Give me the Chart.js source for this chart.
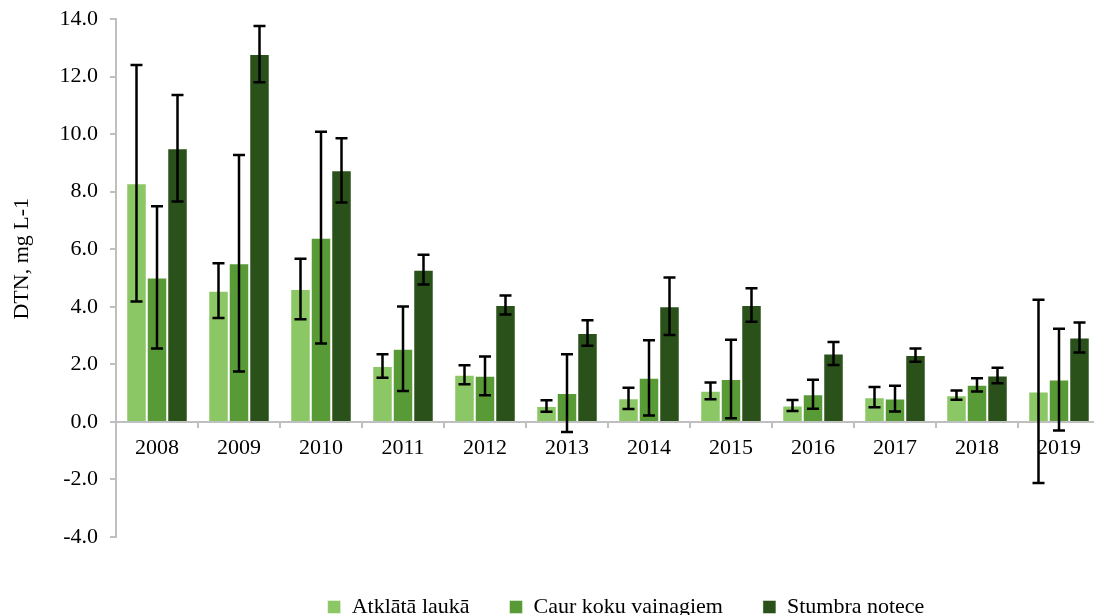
<!DOCTYPE html>
<html>
<head>
<meta charset="utf-8">
<script src="https://cdn.jsdelivr.net/npm/chart.js@4.4.0/dist/chart.umd.min.js"></script>
<style>
html, body { margin: 0; padding: 0; overflow: hidden; background: #fff; }
canvas { display: block; }
</style>
</head>
<body>
<canvas id="dtnChart" width="1100" height="615"></canvas>
<script>
var years = ['2008', '2009', '2010', '2011', '2012', '2013', '2014', '2015', '2016', '2017', '2018', '2019'];

var atklata    = [8.29, 4.56, 4.62, 1.94, 1.64, 0.55, 0.82, 1.08, 0.57, 0.86, 0.93, 1.06];
var atklataErr = [4.11, 0.95, 1.05, 0.41, 0.33, 0.20, 0.37, 0.29, 0.19, 0.35, 0.16, 3.18];

var caur       = [5.02, 5.51, 6.40, 2.54, 1.60, 1.00, 1.53, 1.49, 0.96, 0.81, 1.29, 1.47];
var caurErr    = [2.47, 3.76, 3.68, 1.47, 0.67, 1.35, 1.31, 1.36, 0.50, 0.45, 0.23, 1.77];

var stumbra    = [9.51, 12.78, 8.74, 5.29, 4.06, 3.09, 4.02, 4.06, 2.38, 2.32, 1.61, 2.93];
var stumbraErr = [1.85, 0.98, 1.12, 0.52, 0.33, 0.44, 1.00, 0.58, 0.40, 0.23, 0.27, 0.52];

var yTicks = [-4, -2, 0, 2, 4, 6, 8, 10, 12, 14];

var axisGrey = '#bfbfbf';
var serif = '"Liberation Serif", "Times New Roman", Tinos, serif';

// error bars drawn on top of the bars, through the y scale
var errorBars = {
    id: 'errorBars',
    afterDatasetsDraw: function (chart) {
        var ctx = chart.ctx;
        var yScale = chart.scales.y;
        ctx.save();
        ctx.strokeStyle = '#000';
        ctx.lineWidth = 2.5;
        chart.data.datasets.forEach(function (ds, i) {
            var meta = chart.getDatasetMeta(i);
            meta.data.forEach(function (bar, j) {
                var v = ds.data[j], e = ds.errors[j];
                var top = yScale.getPixelForValue(v + e);
                var bot = yScale.getPixelForValue(v - e);
                var x = bar.x;
                ctx.beginPath();
                ctx.moveTo(x, top); ctx.lineTo(x, bot);
                ctx.moveTo(x - 6, top); ctx.lineTo(x + 6, top);
                ctx.moveTo(x - 6, bot); ctx.lineTo(x + 6, bot);
                ctx.stroke();
            });
        });
        ctx.restore();
    }
};

// legend sits lower and right of centre, as in the original
var legendShift = {
    id: 'legendShift',
    afterLayout: function (chart) {
        var lg = chart.legend;
        var h = lg.bottom - lg.top;
        lg.left += 76;
        lg.right += 76;
        lg.top = 556;
        lg.bottom = 556 + h;
    }
};

function draw() {
    var ctx = document.getElementById('dtnChart').getContext('2d');
    var dtnChart = new Chart(ctx, {
        type: 'bar',
        data: {
            labels: years,
            datasets: [{
                label: 'Atklātā laukā',
                data: atklata,
                errors: atklataErr,
                backgroundColor: '#8bc765',
                borderColor: 'rgba(255,255,255,0.45)',
                borderWidth: 1
            }, {
                label: 'Caur koku vainagiem',
                data: caur,
                errors: caurErr,
                backgroundColor: '#589a36',
                borderColor: 'rgba(255,255,255,0.45)',
                borderWidth: 1
            }, {
                label: 'Stumbra notece',
                data: stumbra,
                errors: stumbraErr,
                backgroundColor: '#2b511a',
                borderColor: 'rgba(255,255,255,0.45)',
                borderWidth: 1
            }]
        },
        options: {
            responsive: false,
            animation: false,
            devicePixelRatio: 1,
            layout: { padding: { top: 19, left: 0, right: 0, bottom: 6 } },
            datasets: { bar: { categoryPercentage: 0.75, barPercentage: 1.0 } },
            scales: {
                x: {
                    position: { y: 0 },
                    grid: {
                        offset: true,
                        drawOnChartArea: false,
                        drawTicks: true,
                        tickLength: 5,
                        color: axisGrey,
                        lineWidth: 2
                    },
                    border: { color: axisGrey, width: 2 },
                    ticks: {
                        color: '#000',
                        padding: 8,
                        maxRotation: 0,
                        font: { family: serif, size: 22 }
                    }
                },
                y: {
                    min: -4,
                    max: 14,
                    afterFit: function (s) {
                        s.width = 116;
                        s.paddingTop = 0;
                        s.paddingBottom = 0;
                    },
                    afterBuildTicks: function (s) {
                        s.ticks = yTicks.map(function (v) { return { value: v }; });
                    },
                    grid: {
                        drawOnChartArea: false,
                        tickLength: 6,
                        color: axisGrey,
                        lineWidth: 2
                    },
                    border: { color: axisGrey, width: 2 },
                    ticks: {
                        color: '#000',
                        padding: 12,
                        font: { family: serif, size: 22 },
                        callback: function (v) { return Number(v).toFixed(1); }
                    },
                    title: {
                        display: true,
                        // leading spaces lift the label a little, like the original
                        text: '       DTN, mg L-1',
                        color: '#000',
                        padding: { top: 9, bottom: 0 },
                        font: { family: serif, size: 22 }
                    }
                }
            },
            plugins: {
                legend: {
                    position: 'bottom',
                    labels: {
                        color: '#000',
                        boxWidth: 13,
                        boxHeight: 13,
                        padding: 40,
                        font: { family: serif, size: 22 }
                    }
                },
                tooltip: { enabled: false }
            }
        },
        plugins: [errorBars, legendShift]
    });
}

if (document.fonts && document.fonts.load) {
    Promise.all([
        document.fonts.load('22px "Liberation Serif"')
    ]).then(draw, draw);
} else {
    draw();
}
</script>
</body>
</html>
